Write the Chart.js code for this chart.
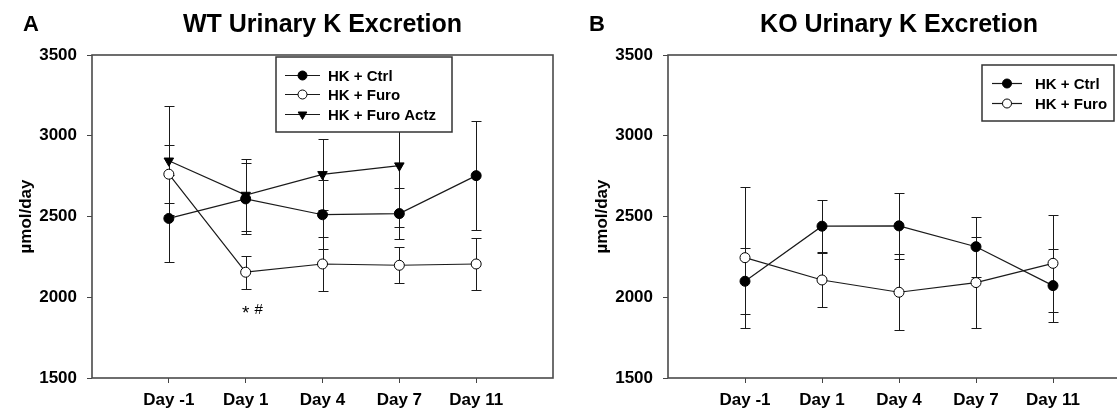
<!DOCTYPE html>
<html>
<head>
<meta charset="utf-8">
<title>Urinary K Excretion</title>
<script src="https://cdn.jsdelivr.net/npm/chart.js@4.4.1/dist/chart.umd.min.js"></script>
<style>
  html, body { margin: 0; padding: 0; background: #fff; }
  body { width: 1117px; height: 414px; position: relative; overflow: hidden; }
  .panel { position: absolute; top: 0; }
  #panelA { left: 0; }
  #panelB { left: 576px; }
</style>
</head>
<body>
<div class="panel" id="panelA"><canvas id="wtChart" width="570" height="414"></canvas></div>
<div class="panel" id="panelB"><canvas id="koChart" width="600" height="414"></canvas></div>
<script>
const dayLabels = ['Day -1', 'Day 1', 'Day 4', 'Day 7', 'Day 11'];
const yTicks = [1500, 2000, 2500, 3000, 3500];

// WT mice, urinary K in umol/day (mean and SEM)
const wtCtrl = [2488, 2609, 2511, 2518, 2753];
const wtCtrlSem = [272, 220, 214, 157, 336];
const wtFuro = [2762, 2155, 2206, 2198, 2206];
const wtFuroSem = [180, 103, 168, 111, 163];
const wtFuroActz = [2845, 2633, 2761, 2815, null];
const wtFuroActzSem = [338, 221, 219, 378, null];

// KO mice
const koCtrl = [2099, 2440, 2442, 2313, 2072];
const koCtrlSem = [204, 160, 203, 185, 227];
const koFuro = [2245, 2107, 2031, 2091, 2210];
const koFuroSem = [436, 167, 236, 283, 300];

const fontFamily = '"Liberation Sans", Arial, Helvetica, sans-serif';
const ink = '#1a1a1a';

const markers = {
  ctrl: { pointStyle: 'circle', pointRadius: 5, pointBackgroundColor: '#000', pointRotation: 0 },
  furo: { pointStyle: 'circle', pointRadius: 5, pointBackgroundColor: '#fff', pointRotation: 0 },
  actz: { pointStyle: 'triangle', pointRadius: 5.5, pointBackgroundColor: '#000', pointRotation: 180 }
};

// vertical SEM bars with caps, under the markers
const errorBars = {
  id: 'errorBars',
  beforeDatasetsDraw(chart) {
    const { ctx } = chart;
    const y = chart.scales.y;
    ctx.save();
    ctx.strokeStyle = ink;
    ctx.lineWidth = 1;
    chart.data.datasets.forEach((ds, di) => {
      const meta = chart.getDatasetMeta(di);
      meta.data.forEach((pt, i) => {
        const p = ds.data[i];
        if (p.err == null) return;
        const x = Math.round(pt.x) + 0.5;
        const top = Math.round(y.getPixelForValue(p.y + p.err)) + 0.5;
        const bot = Math.round(y.getPixelForValue(p.y - p.err)) + 0.5;
        ctx.beginPath();
        ctx.moveTo(x, top); ctx.lineTo(x, bot);
        ctx.moveTo(x - 5, top); ctx.lineTo(x + 5, top);
        ctx.moveTo(x - 5, bot); ctx.lineTo(x + 5, bot);
        ctx.stroke();
      });
    });
    ctx.restore();
  }
};

// closed frame round the plot area
const frame = {
  id: 'frame',
  beforeDatasetsDraw(chart) {
    const { ctx, chartArea: a } = chart;
    ctx.save();
    ctx.strokeStyle = '#4a4a4a';
    ctx.lineWidth = 1.6;
    ctx.strokeRect(a.left, a.top, a.right - a.left, a.bottom - a.top);
    ctx.restore();
  }
};

// boxed legend with line-marker-line samples
const boxLegend = {
  id: 'boxLegend',
  afterDatasetsDraw(chart, args, o) {
    const { ctx, chartArea } = chart;
    const bx = chartArea.left + o.left;
    const by = chartArea.top + o.top;
    ctx.save();
    ctx.fillStyle = '#fff';
    ctx.fillRect(bx, by, o.width, o.height);
    ctx.strokeStyle = '#333';
    ctx.lineWidth = 1.5;
    ctx.strokeRect(bx, by, o.width, o.height);
    ctx.font = 'bold 15px ' + fontFamily;
    ctx.textBaseline = 'middle';
    ctx.textAlign = 'left';
    chart.data.datasets.forEach((ds, i) => {
      const cy = Math.round(by + o.firstRow + i * o.rowGap) + 0.5;
      const x0 = bx + o.lineStart;
      ctx.strokeStyle = ink;
      ctx.lineWidth = ds.borderWidth;
      ctx.beginPath();
      ctx.moveTo(x0, cy);
      ctx.lineTo(x0 + o.lineLen, cy);
      ctx.stroke();
      ctx.fillStyle = ds.pointBackgroundColor;
      ctx.strokeStyle = '#000';
      ctx.lineWidth = 1;
      Chart.helpers.drawPoint(ctx, {
        pointStyle: ds.pointStyle,
        rotation: ds.pointRotation,
        radius: ds.pointRadius - 0.5,
        borderWidth: 1
      }, x0 + o.lineLen / 2, cy);
      ctx.fillStyle = '#000';
      ctx.fillText(ds.label, bx + o.textStart, cy + 1);
    });
    ctx.restore();
  }
};

// panel title, panel letter and significance marks
const panelText = {
  id: 'panelText',
  afterDraw(chart, args, o) {
    const { ctx, chartArea } = chart;
    ctx.save();
    ctx.fillStyle = '#000';
    ctx.textBaseline = 'middle';
    ctx.textAlign = 'center';
    ctx.font = 'bold 25px ' + fontFamily;
    ctx.fillText(o.title, (chartArea.left + chartArea.right) / 2, o.titleY);
    ctx.textAlign = 'left';
    ctx.font = 'bold 22px ' + fontFamily;
    ctx.fillText(o.letter, o.letterX, o.titleY);
    (o.marks || []).forEach(m => {
      const x = chart.scales.x.getPixelForValue(m.x);
      const y = chart.scales.y.getPixelForValue(m.y);
      ctx.textAlign = 'center';
      ctx.font = '19px ' + fontFamily;
      ctx.fillText('*', x, y + 4);
      ctx.font = '15px ' + fontFamily;
      ctx.fillText('#', x + 13, y);
    });
    ctx.restore();
  }
};

function series(label, values, sems, marker) {
  return {
    label: label,
    data: values.map((v, i) => ({ x: i, y: v, err: sems[i] })).filter(p => p.y != null),
    borderColor: ink,
    borderWidth: 1.2,
    pointBorderColor: '#000',
    pointBorderWidth: 1,
    pointHoverRadius: marker.pointRadius,
    tension: 0,
    fill: false,
    ...marker
  };
}

function buildChart(canvasId, datasets, text, legend) {
  const tickFont = { family: fontFamily, size: 17, weight: 'bold' };
  return new Chart(document.getElementById(canvasId), {
    type: 'line',
    data: { datasets: datasets },
    plugins: [frame, errorBars, boxLegend, panelText],
    options: {
      responsive: false,
      animation: false,
      devicePixelRatio: 1,
      layout: { padding: { left: 0, top: 55, right: text.rightPad, bottom: 0 } },
      plugins: {
        legend: { display: false },
        tooltip: { enabled: false },
        boxLegend: legend,
        panelText: text
      },
      scales: {
        x: {
          type: 'linear',
          min: -1,
          max: 5,
          afterBuildTicks: s => { s.ticks = dayLabels.map((d, i) => ({ value: i })); },
          afterFit: s => { s.height = 36; },
          border: { display: false },
          grid: { drawOnChartArea: false, drawTicks: true, tickLength: 5, color: '#444', lineWidth: 1 },
          ticks: {
            callback: v => dayLabels[v],
            font: tickFont,
            color: '#000',
            padding: 7,
            maxRotation: 0,
            autoSkip: false
          }
        },
        y: {
          min: 1500,
          max: 3500,
          afterBuildTicks: s => { s.ticks = yTicks.map(v => ({ value: v })); },
          afterFit: s => { s.width = 92; },
          border: { display: false },
          grid: { drawOnChartArea: false, drawTicks: true, tickLength: 5, color: '#444', lineWidth: 1 },
          ticks: { callback: v => String(v), font: tickFont, color: '#000', padding: 10 },
          title: {
            display: true,
            text: 'µmol/day',
            font: { family: fontFamily, size: 17, weight: 'bold' },
            color: '#000',
            padding: { top: 16, bottom: 0 }
          }
        }
      }
    }
  });
}

buildChart('wtChart', [
  series('HK + Ctrl', wtCtrl, wtCtrlSem, markers.ctrl),
  series('HK + Furo', wtFuro, wtFuroSem, markers.furo),
  series('HK + Furo Actz', wtFuroActz, wtFuroActzSem, markers.actz)
], {
  title: 'WT Urinary K Excretion', letter: 'A', letterX: 23, titleY: 25, rightPad: 17,
  marks: [{ x: 1, y: 1920 }]
}, {
  left: 184, top: 2, width: 176, height: 75,
  lineStart: 9, lineLen: 35, textStart: 52, firstRow: 17.5, rowGap: 19.5
});

// plot area runs on past the right edge of the page
buildChart('koChart', [
  series('HK + Ctrl', koCtrl, koCtrlSem, markers.ctrl),
  series('HK + Furo', koFuro, koFuroSem, markers.furo)
], {
  title: 'KO Urinary K Excretion', letter: 'B', letterX: 13, titleY: 25, rightPad: 46
}, {
  left: 314, top: 10, width: 132, height: 56,
  lineStart: 10, lineLen: 30, textStart: 53, firstRow: 18, rowGap: 20
});
</script>
</body>
</html>
